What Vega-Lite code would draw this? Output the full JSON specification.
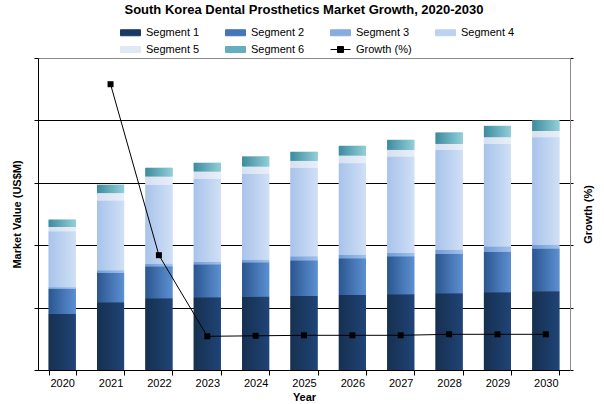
{
  "$schema": "https://vega.github.io/schema/vega-lite/v6.json",
  "width": 532,
  "height": 312,
  "autosize": {"type": "none"},
  "padding": {"left": 38, "top": 58, "right": 34, "bottom": 34},
  "background": "white",
  "config": {
    "font": "Liberation Sans",
    "view": {"stroke": "#8c8c8c", "strokeWidth": 1},
    "axis": {
      "labelColor": "#000",
      "titleColor": "#000",
      "labelFont": "Liberation Sans",
      "titleFont": "Liberation Sans",
      "labelFontSize": 11,
      "titleFontSize": 11,
      "titleFontWeight": "bold",
      "domainColor": "#000",
      "tickColor": "#000",
      "gridColor": "#000"
    }
  },
  "title": {
    "text": "South Korea Dental Prosthetics Market Growth, 2020-2030",
    "font": "Liberation Sans",
    "fontSize": 13,
    "fontWeight": "bold",
    "color": "#000",
    "anchor": "middle",
    "frame": "group",
    "offset": 5
  },
  "data": {
    "values": [
      {"year": "2020", "Segment 1": 90.0, "Segment 2": 40.0, "Segment 3": 2.6, "Segment 4": 89.6, "Segment 5": 7.0, "Segment 6": 11.7, "growth": null},
      {"year": "2021", "Segment 1": 108.5, "Segment 2": 47.0, "Segment 3": 4.2, "Segment 4": 112.0, "Segment 5": 11.8, "Segment 6": 13.3, "growth": 22.9},
      {"year": "2022", "Segment 1": 114.9, "Segment 2": 51.2, "Segment 3": 4.3, "Segment 4": 126.4, "Segment 5": 13.3, "Segment 6": 13.9, "growth": 9.2},
      {"year": "2023", "Segment 1": 116.5, "Segment 2": 52.8, "Segment 3": 4.3, "Segment 4": 132.8, "Segment 5": 11.7, "Segment 6": 13.9, "growth": 2.7},
      {"year": "2024", "Segment 1": 117.6, "Segment 2": 54.9, "Segment 3": 4.3, "Segment 4": 137.6, "Segment 5": 11.7, "Segment 6": 16.0, "growth": 2.74},
      {"year": "2025", "Segment 1": 118.7, "Segment 2": 57.0, "Segment 3": 6.4, "Segment 4": 141.9, "Segment 5": 11.2, "Segment 6": 14.4, "growth": 2.78},
      {"year": "2026", "Segment 1": 120.0, "Segment 2": 58.9, "Segment 3": 5.9, "Segment 4": 146.7, "Segment 5": 12.2, "Segment 6": 15.5, "growth": 2.78},
      {"year": "2027", "Segment 1": 121.3, "Segment 2": 60.8, "Segment 3": 5.4, "Segment 4": 154.6, "Segment 5": 10.7, "Segment 6": 16.0, "growth": 2.78},
      {"year": "2028", "Segment 1": 122.9, "Segment 2": 63.5, "Segment 3": 6.4, "Segment 4": 160.0, "Segment 5": 9.6, "Segment 6": 18.1, "growth": 2.86},
      {"year": "2029", "Segment 1": 124.5, "Segment 2": 65.1, "Segment 3": 8.5, "Segment 4": 164.3, "Segment 5": 10.7, "Segment 6": 18.1, "growth": 2.86},
      {"year": "2030", "Segment 1": 126.1, "Segment 2": 68.8, "Segment 3": 5.9, "Segment 4": 172.3, "Segment 5": 10.1, "Segment 6": 17.6, "growth": 2.86}
    ]
  },
  "encoding": {
    "x": {
      "field": "year",
      "type": "ordinal",
      "title": "Year",
      "scale": {"paddingInner": 0.44, "paddingOuter": 0.22},
      "axis": {"labelAngle": 0, "tickBand": "extent", "tickSize": 5, "labelPadding": 2, "titlePadding": 3, "grid": false}
    }
  },
  "layer": [
    {
      "transform": [
        {"fold": ["Segment 1", "Segment 2", "Segment 3", "Segment 4", "Segment 5", "Segment 6"], "as": ["segment", "value"]}
      ],
      "encoding": {
        "y": {
          "field": "value",
          "type": "quantitative",
          "stack": "zero",
          "title": "Market Value (US$M)",
          "scale": {"domain": [0, 500]},
          "axis": {
            "values": [0, 100, 200, 300, 400, 500],
            "labels": false,
            "tickSize": 4,
            "titlePadding": 11,
            "grid": true,
            "gridColor": {"condition": {"test": "datum.value === 500", "value": "#8c8c8c"}, "value": "#000"}
          }
        },
        "order": {"field": "segment", "sort": "ascending"}
      },
      "layer": [
        {
          "mark": {"type": "bar"},
          "encoding": {
            "color": {
              "field": "segment",
              "type": "nominal",
              "scale": {
                "domain": ["Segment 1", "Segment 2", "Segment 3", "Segment 4", "Segment 5", "Segment 6", "Growth (%)"],
                "range": ["#1b3a63", "#4475b8", "#89acdf", "#bcd2f0", "#e0e8f4", "#66aebd", "#000000"]
              },
              "legend": {
                "title": null,
                "orient": "none",
                "direction": "horizontal",
                "legendX": 82,
                "legendY": -36,
                "columns": 4,
                "gridAlign": "all",
                "columnPadding": 21,
                "rowPadding": 1,
                "padding": 0,
                "symbolSize": 400,
                "labelOffset": 5,
                "labelFont": "Liberation Sans",
                "labelFontSize": 11,
                "labelColor": "#000",
                "encode": {
                  "symbols": {
                    "update": {
                      "shape": {"signal": "datum.value === 'Growth (%)' ? 'M-1,0H1M-0.3,-0.3H0.3V0.3H-0.3Z' : 'M-1,-0.3H1V0.3H-1Z'"},
                      "fill": {"signal": "datum.value === 'Segment 1' ? {gradient: 'linear', x1: 0, y1: 0, x2: 1, y2: 0, stops: [{offset: 0, color: '#16304f'}, {offset: 1, color: '#1f4477'}]} : datum.value === 'Segment 2' ? {gradient: 'linear', x1: 0, y1: 0, x2: 1, y2: 0, stops: [{offset: 0, color: '#2b5690'}, {offset: 1, color: '#5c90d2'}]} : datum.value === 'Segment 3' ? {gradient: 'linear', x1: 0, y1: 0, x2: 1, y2: 0, stops: [{offset: 0, color: '#6f9bd6'}, {offset: 1, color: '#a4c1ea'}]} : datum.value === 'Segment 4' ? {gradient: 'linear', x1: 0, y1: 0, x2: 1, y2: 0, stops: [{offset: 0, color: '#a8c3eb'}, {offset: 1, color: '#d0e0f5'}]} : datum.value === 'Segment 5' ? {gradient: 'linear', x1: 0, y1: 0, x2: 1, y2: 0, stops: [{offset: 0, color: '#d6e0ef'}, {offset: 1, color: '#e9eff8'}]} : datum.value === 'Segment 6' ? {gradient: 'linear', x1: 0, y1: 0, x2: 1, y2: 0, stops: [{offset: 0, color: '#3d8b9e'}, {offset: 1, color: '#92cfd9'}]} : '#000000'"},
                      "stroke": {"signal": "datum.value === 'Growth (%)' ? '#000' : 'transparent'"},
                      "strokeWidth": {"value": 1},
                      "opacity": {"value": 1},
                      "fillOpacity": {"value": 1}
                    }
                  }
                }
              }
            }
          }
        },
        {
          "mark": {"type": "bar"},
          "encoding": {
            "detail": {"field": "segment", "type": "nominal"},
            "fill": {
              "condition": [
                {"test": "datum.segment === 'Segment 1'", "value": {"gradient": "linear", "x1": 0, "y1": 0, "x2": 1, "y2": 0, "stops": [{"offset": 0, "color": "#16304f"}, {"offset": 1, "color": "#1f4477"}]}},
                {"test": "datum.segment === 'Segment 2'", "value": {"gradient": "linear", "x1": 0, "y1": 0, "x2": 1, "y2": 0, "stops": [{"offset": 0, "color": "#2b5690"}, {"offset": 1, "color": "#5c90d2"}]}},
                {"test": "datum.segment === 'Segment 3'", "value": {"gradient": "linear", "x1": 0, "y1": 0, "x2": 1, "y2": 0, "stops": [{"offset": 0, "color": "#6f9bd6"}, {"offset": 1, "color": "#a4c1ea"}]}},
                {"test": "datum.segment === 'Segment 4'", "value": {"gradient": "linear", "x1": 0, "y1": 0, "x2": 1, "y2": 0, "stops": [{"offset": 0, "color": "#a8c3eb"}, {"offset": 1, "color": "#d0e0f5"}]}},
                {"test": "datum.segment === 'Segment 5'", "value": {"gradient": "linear", "x1": 0, "y1": 0, "x2": 1, "y2": 0, "stops": [{"offset": 0, "color": "#d6e0ef"}, {"offset": 1, "color": "#e9eff8"}]}}
              ],
              "value": {"gradient": "linear", "x1": 0, "y1": 0, "x2": 1, "y2": 0, "stops": [{"offset": 0, "color": "#3d8b9e"}, {"offset": 1, "color": "#92cfd9"}]}
            }
          }
        }
      ]
    },
    {
      "mark": {
        "type": "line",
        "strokeWidth": 1,
        "point": {"shape": "square", "size": 36, "filled": true, "opacity": 1, "color": "#000"}
      },
      "encoding": {
        "y": {
          "field": "growth",
          "type": "quantitative",
          "title": "Growth (%)",
          "scale": {"domain": [0, 25]},
          "axis": {
            "orient": "right",
            "values": [0, 5, 10, 15, 20, 25],
            "labels": false,
            "grid": false,
            "tickSize": 3,
            "domainColor": "#8c8c8c",
            "titlePadding": 20,
            "titleAngle": 270
          }
        },
        "color": {"datum": "Growth (%)", "type": "nominal"}
      }
    }
  ],
  "resolve": {"scale": {"y": "independent"}}
}
